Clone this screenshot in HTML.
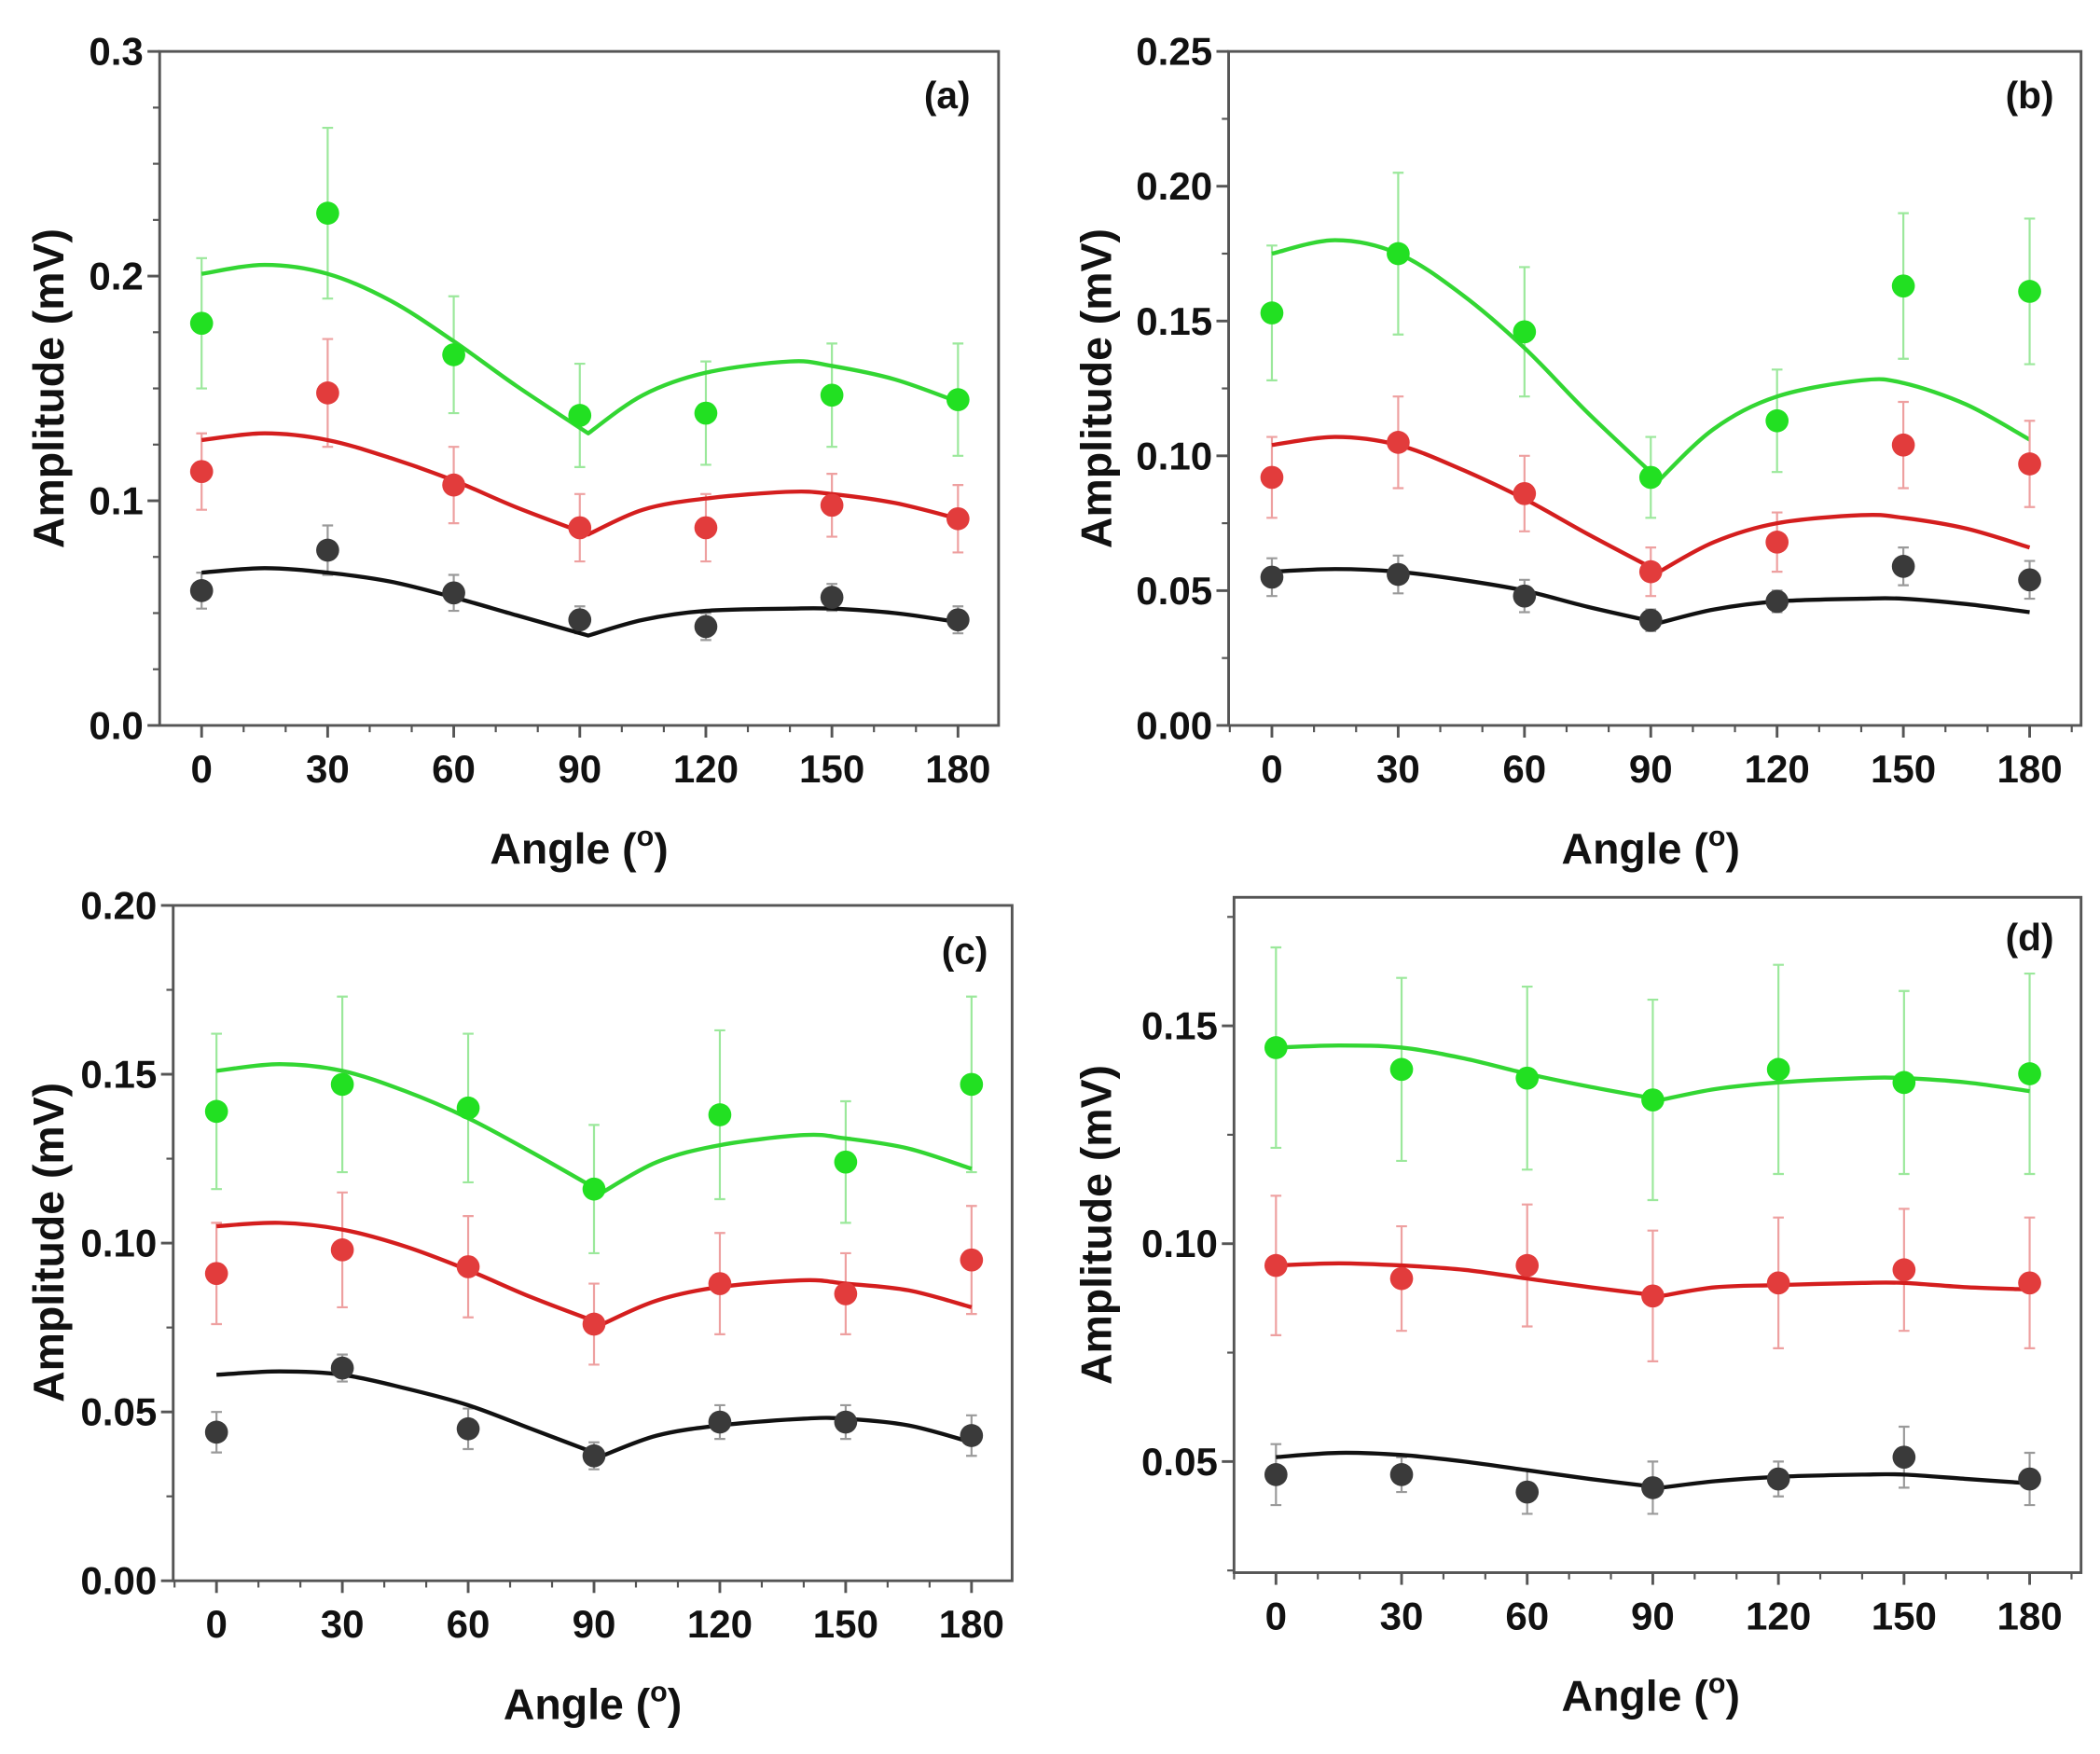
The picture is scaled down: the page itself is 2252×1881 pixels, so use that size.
<!DOCTYPE html>
<html><head><meta charset="utf-8"><style>
html,body{margin:0;padding:0;background:#fff;}
svg{display:block;font-family:"Liberation Sans",Arial,sans-serif;}
</style></head><body>
<svg id="fig" width="2252" height="1881" viewBox="0 0 1552 1296" preserveAspectRatio="none" xmlns="http://www.w3.org/2000/svg"></svg>
<script>
const angles=[0,30,60,90,120,150,180];
const fitAngles=[0,15,30,45,60,75,92,105,120,140,150,165,180];
// panel a
const aGreen=[0.179,0.228,0.165,0.138,0.139,0.147,0.145];
const aGreenErr=[0.029,0.038,0.026,0.023,0.023,0.023,0.025];
const aRed=[0.113,0.148,0.107,0.088,0.088,0.098,0.092];
const aRedErr=[0.017,0.024,0.017,0.015,0.015,0.014,0.015];
const aBlack=[0.060,0.078,0.059,0.047,0.044,0.057,0.047];
const aBlackErr=[0.008,0.011,0.008,0.006,0.006,0.006,0.006];
const aGreenFit=[0.201,0.205,0.201,0.189,0.171,0.151,0.130,0.147,0.157,0.162,0.160,0.154,0.144];
const aRedFit=[0.127,0.130,0.127,0.119,0.109,0.097,0.085,0.096,0.101,0.104,0.103,0.099,0.092];
const aBlackFit=[0.068,0.070,0.068,0.064,0.057,0.049,0.040,0.047,0.051,0.052,0.052,0.050,0.046];
const aTicks=["0.0","0.1","0.2","0.3"];
// panel b
const bGreen=[0.153,0.175,0.146,0.092,0.113,0.163,0.161];
const bGreenErr=[0.025,0.030,0.024,0.015,0.019,0.027,0.027];
const bRed=[0.092,0.105,0.086,0.057,0.068,0.104,0.097];
const bRedErr=[0.015,0.017,0.014,0.009,0.011,0.016,0.016];
const bBlack=[0.055,0.056,0.048,0.039,0.046,0.059,0.054];
const bBlackErr=[0.007,0.007,0.006,0.004,0.004,0.007,0.007];
const bGreenFit=[0.175,0.180,0.175,0.160,0.140,0.116,0.091,0.110,0.122,0.128,0.127,0.119,0.106];
const bRedFit=[0.104,0.107,0.104,0.095,0.084,0.071,0.057,0.068,0.075,0.078,0.077,0.073,0.066];
const bBlackFit=[0.057,0.058,0.057,0.054,0.050,0.044,0.038,0.043,0.046,0.047,0.047,0.045,0.042];
const bTicks=["0.00","0.05","0.10","0.15","0.20","0.25"];
// panel c
const cGreen=[0.139,0.147,0.140,0.116,0.138,0.124,0.147];
const cGreenErr=[0.023,0.026,0.022,0.019,0.025,0.018,0.026];
const cRed=[0.091,0.098,0.093,0.076,0.088,0.085,0.095];
const cRedErr=[0.015,0.017,0.015,0.012,0.015,0.012,0.016];
const cBlack=[0.044,0.063,0.045,0.037,0.047,0.047,0.043];
const cBlackErr=[0.006,0.004,0.006,0.004,0.005,0.005,0.006];
const cGreenFit=[0.151,0.153,0.151,0.145,0.137,0.127,0.115,0.124,0.129,0.132,0.131,0.128,0.122];
const cRedFit=[0.105,0.106,0.104,0.099,0.092,0.084,0.076,0.083,0.087,0.089,0.088,0.086,0.081];
const cBlackFit=[0.061,0.062,0.061,0.057,0.052,0.045,0.037,0.043,0.046,0.048,0.048,0.046,0.041];
const cTicks=["0.00","0.05","0.10","0.15","0.20"];
// panel d
const dGreen=[0.145,0.140,0.138,0.133,0.140,0.137,0.139];
const dGreenErr=[0.023,0.021,0.021,0.023,0.024,0.021,0.023];
const dRed=[0.095,0.092,0.095,0.088,0.091,0.094,0.091];
const dRedErr=[0.016,0.012,0.014,0.015,0.015,0.014,0.015];
const dBlack=[0.047,0.047,0.043,0.044,0.046,0.051,0.046];
const dBlackErr=[0.007,0.004,0.005,0.006,0.004,0.007,0.006];
const dGreenFit=[0.145,0.1455,0.145,0.1425,0.139,0.136,0.133,0.1355,0.137,0.138,0.138,0.137,0.135];
const dRedFit=[0.095,0.0955,0.095,0.094,0.092,0.090,0.088,0.090,0.0905,0.091,0.091,0.090,0.0895];
const dBlackFit=[0.051,0.052,0.0515,0.050,0.048,0.046,0.044,0.0455,0.0465,0.047,0.047,0.046,0.045];
const dTicks=["0.05","0.10","0.15"];
const xTicks=["0","30","60","90","120","150","180"];

const NS="http://www.w3.org/2000/svg";
const svg=document.getElementById('fig');
function mk(tag,attrs,parent){const e=document.createElementNS(NS,tag);for(const k in attrs)e.setAttribute(k,attrs[k]);(parent||svg).appendChild(e);return e;}
function smooth(pts){
  let d='M'+pts[0][0]+','+pts[0][1];
  for(let i=0;i<pts.length-1;i++){
    const p0=pts[Math.max(i-1,0)],p1=pts[i],p2=pts[i+1],p3=pts[Math.min(i+2,pts.length-1)];
    const c1=[p1[0]+(p2[0]-p0[0])/6,p1[1]+(p2[1]-p0[1])/6];
    const c2=[p2[0]-(p3[0]-p1[0])/6,p2[1]-(p3[1]-p1[1])/6];
    d+=` C${c1[0]},${c1[1]} ${c2[0]},${c2[1]} ${p2[0]},${p2[1]}`;
  }
  return d;
}

const panels=[
 {id:'a',L:118,R:738,T:38,B:536,x0:149,x180:708,ymin:0,ymax:0.3,ticks:aTicks,minor:0.025,lab:[700,80],xt:[428,638],yt:[36,287],xl:578,
  s:[[aGreen,aGreenErr,aGreenFit,'green'],[aRed,aRedErr,aRedFit,'red'],[aBlack,aBlackErr,aBlackFit,'black']]},
 {id:'b',L:908,R:1538,T:38,B:536,x0:940,x180:1500,ymin:0,ymax:0.25,ticks:bTicks,minor:0.025,lab:[1500,80],xt:[1220,638],yt:[810,287],xl:578,
  s:[[bGreen,bGreenErr,bGreenFit,'green'],[bRed,bRedErr,bRedFit,'red'],[bBlack,bBlackErr,bBlackFit,'black']]},
 {id:'c',L:128,R:748,T:669,B:1168,x0:160,x180:718,ymin:0,ymax:0.2,ticks:cTicks,minor:0.025,lab:[713,712],xt:[438,1270],yt:[36,918],xl:1210,
  s:[[cGreen,cGreenErr,cGreenFit,'green'],[cRed,cRedErr,cRedFit,'red'],[cBlack,cBlackErr,cBlackFit,'black']]},
 {id:'d',L:912,R:1538,T:663,B:1162,x0:943,x180:1500,ymin:0.0245,ymax:0.1795,ticks:dTicks,minor:0.025,lab:[1500,702],xt:[1220,1264],yt:[810,905],xl:1204,
  s:[[dGreen,dGreenErr,dGreenFit,'green'],[dRed,dRedErr,dRedFit,'red'],[dBlack,dBlackErr,dBlackFit,'black']]}
];
const col={green:{pt:'#22e022',err:'#9be89b',line:'#33d633'},red:{pt:'#e23c3c',err:'#eea0a0',line:'#d41e1e'},black:{pt:'#3a3a3a',err:'#9a9a9a',line:'#111'}};

panels.forEach(p=>{
 const g=mk('g',{});
 
 
 const xs=a=>p.x0+(a/180)*(p.x180-p.x0);
 const ys=v=>p.B-(v-p.ymin)/(p.ymax-p.ymin)*(p.B-p.T);
 const fr=mk('rect',{x:p.L,y:p.T,width:p.R-p.L,height:p.B-p.T,fill:'none',stroke:'#555','stroke-width':2},g);
 
 
 for(let v=Math.ceil(p.ymin/p.minor-1e-9)*p.minor; v<=p.ymax+1e-9; v+=p.minor){
   mk('line',{x1:p.L-5,x2:p.L,y1:ys(v),y2:ys(v),stroke:'#555','stroke-width':1.5},g);
 }
 p.ticks.forEach(t=>{
   const v=parseFloat(t);const y=ys(v);
   mk('line',{x1:p.L-9,x2:p.L,y1:y,y2:y,stroke:'#555','stroke-width':2},g);
   const tx=mk('text',{x:p.L-12,y:y+10,'text-anchor':'end','font-size':29,'font-weight':'bold',fill:'#111'},g);
   tx.textContent=t;
   
   
 });
 for(let a=-10;a<=190;a+=10){
   const x=xs(a); if(x<p.L||x>p.R) continue;
   const major=a%30===0&&a>=0&&a<=180;
   mk('line',{x1:x,x2:x,y1:p.B,y2:p.B+(major?9:5),stroke:'#555','stroke-width':major?2:1.5},g);
 }
 xTicks.forEach(t=>{
   const tx=mk('text',{x:xs(parseFloat(t)),y:p.xl,'text-anchor':'middle','font-size':29,'font-weight':'bold',fill:'#111'},g);
   tx.textContent=t;
   
   
 });
 const xt=mk('text',{x:p.xt[0],y:p.xt[1],'text-anchor':'middle','font-size':32,'font-weight':'bold',fill:'#111'},g);
 xt.innerHTML='Angle (<tspan dy="-13" font-size="21">o</tspan><tspan dy="13">)</tspan>';
 
 
 const yt=mk('text',{x:0,y:0,'text-anchor':'middle','font-size':32,'font-weight':'bold',fill:'#111',transform:`translate(${p.yt[0]+11},${p.yt[1]}) rotate(-90)`},g);
 yt.textContent='Amplitude (mV)';
 
 
 const pl=mk('text',{x:p.lab[0],y:p.lab[1],'text-anchor':'middle','font-size':28,'font-weight':'bold',fill:'#111'},g);
 pl.textContent='('+p.id+')';
 
 
 p.s.forEach(([vals,errs,fit,c])=>{
   const sg=mk('g',{},g);
   
   
   vals.forEach((v,i)=>{
     const x=xs(angles[i]);const y1=ys(v+errs[i]),y2=ys(v-errs[i]);
     const eb=mk('path',{d:`M${x},${y1}V${y2}M${x-4},${y1}H${x+4}M${x-4},${y2}H${x+4}`,stroke:col[c].err,'stroke-width':1.5,fill:'none'},sg);
     
     
   });
   const pts=fit.map((v,i)=>[xs(fitAngles[i]),ys(v)]);
   const cusp=fitAngles.indexOf(92);
   const d=smooth(pts.slice(0,cusp+1))+' '+smooth(pts.slice(cusp)).replace(/^M/,'L');
   const ln=mk('path',{d:d,fill:'none',stroke:col[c].line,'stroke-width':3,'stroke-linejoin':'round'},sg);
   
   
   vals.forEach((v,i)=>{
     const ci=mk('circle',{cx:xs(angles[i]),cy:ys(v),r:8.5,fill:col[c].pt},sg);
     
     
   });
 });
});
</script>
</body></html>
